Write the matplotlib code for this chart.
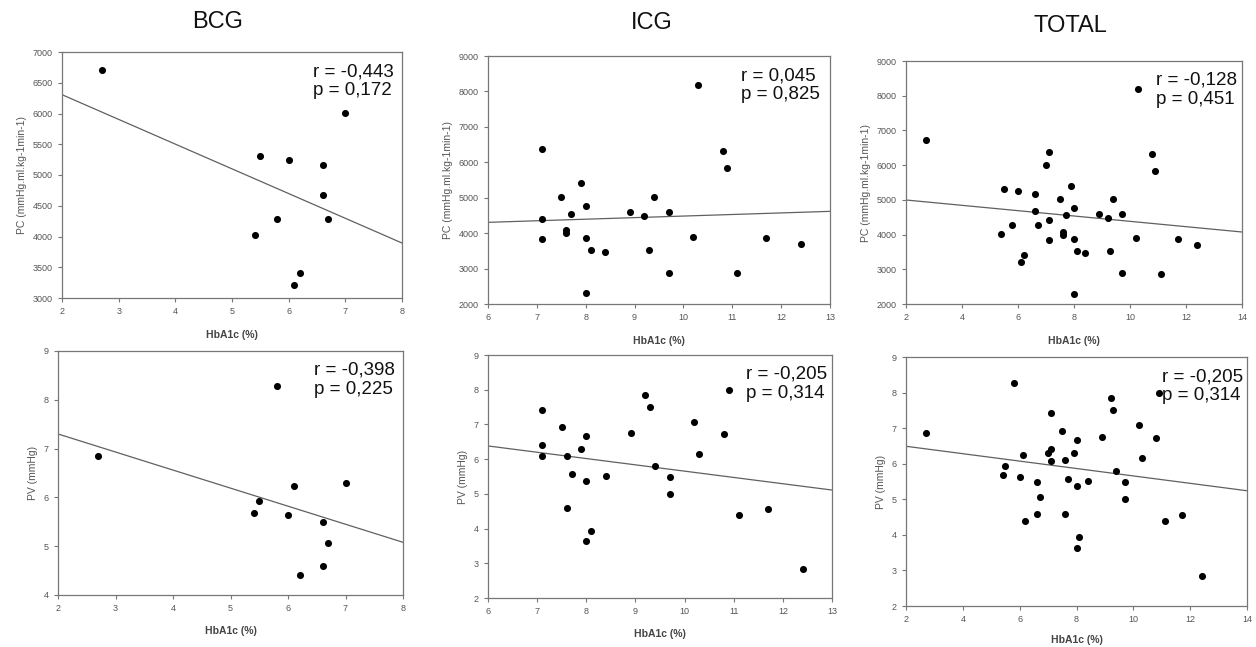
import matplotlib
matplotlib.use("Agg")
import matplotlib.pyplot as plt

plt.rcParams['font.family'] = ['Liberation Sans', 'DejaVu Sans']

# BCG group
bcg_hba1c = [2.7, 7.0, 5.5, 6.0, 6.6, 6.6, 5.8, 6.7, 5.4, 6.2, 6.1]
bcg_pc = [6710, 6010, 5310, 5245, 5170, 4680, 4280, 4280, 4020, 3410, 3205]
bcg_pv_hba1c = [2.7, 5.8, 6.1, 7.0, 5.5, 5.4, 6.0, 6.6, 6.7, 6.6, 6.2]
bcg_pv = [6.85, 8.28, 6.24, 6.30, 5.93, 5.68, 5.63, 5.49, 5.07, 4.59, 4.40]

# ICG group
icg_hba1c = [7.1, 10.3, 10.8, 10.9, 7.9, 7.5, 9.4, 8.0, 8.9, 9.7, 7.7, 9.2, 7.1,
             7.6, 7.6, 7.1, 8.0, 10.2, 11.7, 8.1, 9.3, 8.4, 12.4, 9.7, 11.1, 8.0]
icg_pc = [6375, 8180, 6330, 5840, 5405, 5020, 5020, 4757, 4597, 4587, 4550, 4484, 4409,
          4080, 3995, 3845, 3872, 3890, 3863, 3525, 3525, 3458, 3703, 2884, 2875, 2300]
icg_pv_hba1c = [7.1, 7.1, 7.1, 7.5, 7.9, 7.6, 8.0, 7.7, 8.0, 8.4, 7.6, 8.1, 8.0,
                8.9, 9.2, 9.3, 9.4, 9.7, 9.7, 10.2, 10.3, 10.8, 10.9, 11.1, 11.7, 12.4]
icg_pv = [7.43, 6.41, 6.09, 6.93, 6.29, 6.10, 6.68, 5.58, 5.36, 5.52, 4.59, 3.93, 3.64,
          6.75, 7.85, 7.51, 5.79, 5.50, 5.01, 7.08, 6.16, 6.71, 8.00, 4.39, 4.56, 2.83]

# regression line ends (fitted y at both ends of the x axis)
fit_bcg_pc = [6306, 3894]
fit_icg_pc = [4305, 4615]
fit_total_pc = [4996, 4074]
fit_bcg_pv = [7.30, 5.08]
fit_icg_pv = [6.38, 5.11]
fit_total_pv = [6.49, 5.24]

stats = {
    'bcg_pc': "r = -0,443\np = 0,172",
    'icg_pc': "r = 0,045\np = 0,825",
    'total_pc': "r = -0,128\np = 0,451",
    'bcg_pv': "r = -0,398\np = 0,225",
    'icg_pv': "r = -0,205\np = 0,314",
    'total_pv': "r = -0,205\np = 0,314",
}

W, H = 1256, 647
fig = plt.figure(figsize=(W / 100, H / 100), dpi=100)


def box(l, r, t, b):
    return [l / W, 1 - b / H, (r - l) / W, (b - t) / H]


def panel(rect, xs, ys, xlim, xticks, ylim, yticks, fit, ylabel, txt, txt_x, xlpad):
    ax = fig.add_axes(rect)
    ax.scatter(xs, ys, s=26, color='black', zorder=3, linewidths=0)
    ax.plot(xlim, fit, color='#606060', linewidth=0.9, zorder=2)
    ax.set_xlim(xlim)
    ax.set_ylim(ylim)
    ax.set_xticks(xticks)
    ax.set_yticks(yticks)
    for s in ax.spines.values():
        s.set_color('#777777')
        s.set_linewidth(0.9)
    ax.tick_params(direction='out', length=3, width=0.8, colors='#777777',
                   labelsize=6.5, labelcolor='#555555', top=False, right=False)
    ax.set_xlabel('HbA1c (%)', fontsize=7.5, color='#444444', fontweight='bold', labelpad=xlpad)
    ax.set_ylabel(ylabel, fontsize=7.5, color='#555555', labelpad=4)
    ax.text(txt_x, 0.955, txt, transform=ax.transAxes, ha='right', va='top',
            multialignment='left', fontsize=13.5, color='#111111', linespacing=1.15)
    return ax


pc_lab = 'PC (mmHg.ml.kg-1min-1)'
pv_lab = 'PV (mmHg)'
total_hba1c = bcg_hba1c + icg_hba1c
total_pc = bcg_pc + icg_pc
total_pv_hba1c = bcg_pv_hba1c + icg_pv_hba1c
total_pv = bcg_pv + icg_pv

panel(box(62, 402, 52, 298), bcg_hba1c, bcg_pc, [2, 8], range(2, 9),
      [3000, 7000], range(3000, 7001, 500), fit_bcg_pc, pc_lab, stats['bcg_pc'], 0.975, 10)
panel(box(488, 830, 56, 304), icg_hba1c, icg_pc, [6, 13], range(6, 14),
      [2000, 9000], range(2000, 9001, 1000), fit_icg_pc, pc_lab, stats['icg_pc'], 0.97, 10)
panel(box(906, 1242, 61, 304), total_hba1c, total_pc, [2, 14], range(2, 15, 2),
      [2000, 9000], range(2000, 9001, 1000), fit_total_pc, pc_lab, stats['total_pc'], 0.985, 10)
panel(box(58, 403, 351, 595), bcg_pv_hba1c, bcg_pv, [2, 8], range(2, 9),
      [4, 9], range(4, 10), fit_bcg_pv, pv_lab, stats['bcg_pv'], 0.975, 9)
panel(box(488, 832, 355, 598), icg_pv_hba1c, icg_pv, [6, 13], range(6, 14),
      [2, 9], range(2, 10), fit_icg_pv, pv_lab, stats['icg_pv'], 0.985, 9)
panel(box(906, 1247, 357, 606), total_pv_hba1c, total_pv, [2, 14], range(2, 15, 2),
      [2, 9], range(2, 10), fit_total_pv, pv_lab, stats['total_pv'], 0.99, 8)

for name, x, y in [('BCG', 218, 22), ('ICG', 652, 23), ('TOTAL', 1070, 26)]:
    fig.text(x / W, 1 - y / H, name, ha='center', va='center', fontsize=17, color='#111111')

fig.savefig('out.png', dpi=100)
